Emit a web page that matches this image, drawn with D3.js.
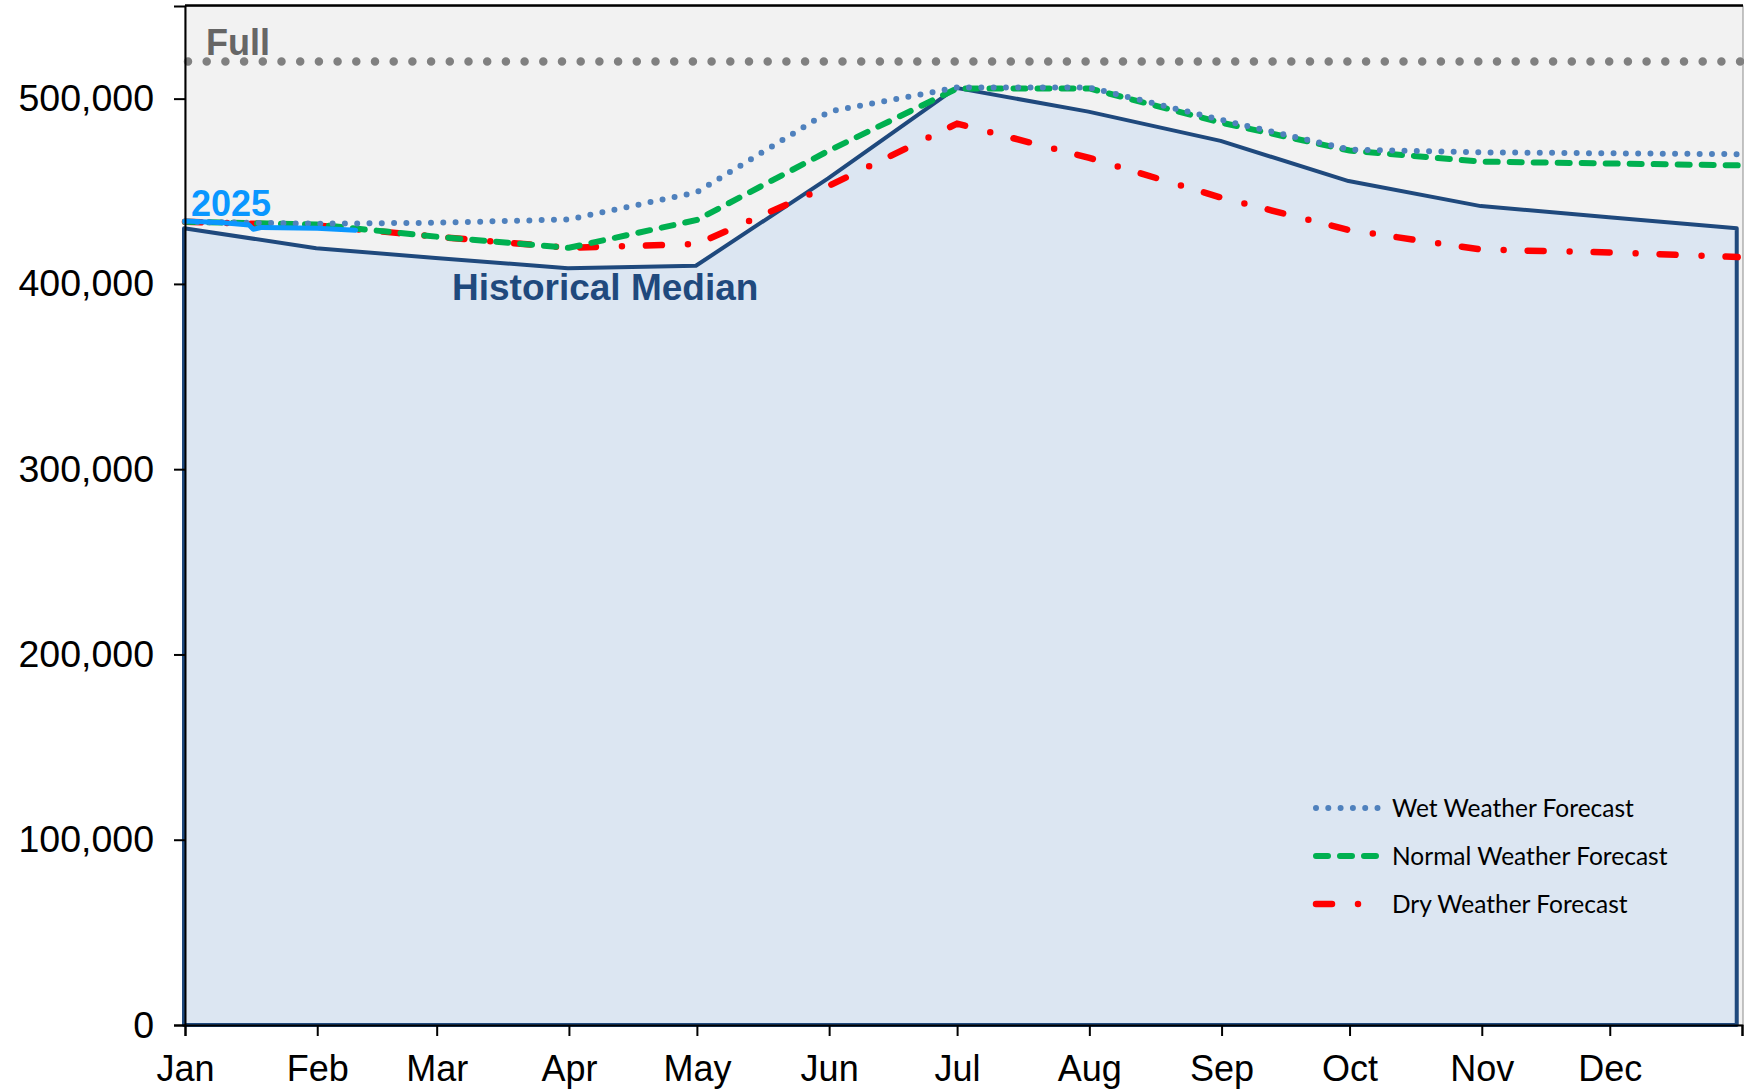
<!DOCTYPE html>
<html>
<head>
<meta charset="utf-8">
<script src="https://cdn.jsdelivr.net/npm/d3@7"></script>
<style>
  body { margin: 0; background: #fff; }
  svg { display: block; }
</style>
</head>
<body>
<div id="graph"></div>
<script>
var monthLabels = ["Jan", "Feb", "Mar", "Apr", "May", "Jun", "Jul", "Aug", "Sep", "Oct", "Nov", "Dec"];
var forecastDates = ["2025-01-01", "2025-02-01", "2025-03-01", "2025-04-01", "2025-05-01", "2025-06-01",
    "2025-07-01", "2025-08-01", "2025-09-01", "2025-10-01", "2025-11-01", "2025-12-01", "2025-12-31"];
var medianValues = [430000, 419300, 414000, 408500, 409800, 457000, 505800, 493000, 477200, 455500, 442000, 436000, 430000];
var wetValues    = [433500, 432500, 433000, 434800, 449500, 493000, 506000, 506000, 488500, 472500, 471000, 470500, 470000];
var normalValues = [433500, 432000, 425500, 419500, 434500, 472000, 505500, 505500, 487000, 472000, 466000, 465000, 464000];
var dryValues    = [433500, 431500, 425500, 419500, 421500, 453000, 486500, 468000, 446500, 429000, 418500, 417000, 414500];
var actualDates  = ["2025-01-01", "2025-01-10", "2025-01-16", "2025-01-17", "2025-01-19", "2025-02-01", "2025-02-10"];
var actualValues = [434000, 433000, 431800, 429500, 430500, 430000, 429000];
var fullLevel = 520000;
var yTickValues = [0, 100000, 200000, 300000, 400000, 500000];
var legendNames = ["Wet Weather Forecast", "Normal Weather Forecast", "Dry Weather Forecast"];

var width = 1744, height = 1091;
var plotLeft = 185, plotRight = 1742, plotTop = 6, plotBottom = 1025;
var parse = d3.timeParse("%Y-%m-%d");

var x = d3.scaleTime()
    .domain([parse("2025-01-01"), parse("2026-01-01")])
    .range([plotLeft, plotRight]);
var y = d3.scaleLinear()
    .domain([0, 550000])
    .range([plotBottom, plotTop]);

var zip = function(dates, values) {
    return dates.map((d, i) => ({date: parse(d), value: values[i]}));
};

var median = zip(forecastDates, medianValues);
var series = [
    {name: legendNames[0], data: zip(forecastDates, wetValues), color: "#4F81BD", width: 6, dash: "0 12.3"},
    {name: legendNames[1], data: zip(forecastDates, normalValues), color: "#00B050", width: 6, dash: "12 12"},
    {name: legendNames[2], data: zip(forecastDates, dryValues), color: "#FF0000", width: 6.5, dash: "16 26 0 24"}
];
var actual = zip(actualDates, actualValues);

var svg = d3.select("#graph")
    .append("svg")
    .attr("width", width)
    .attr("height", height);

svg.append("rect")
    .attr("x", 0).attr("y", 0)
    .attr("width", width).attr("height", height)
    .attr("fill", "#fff");

// plot background with a thin grey frame
svg.append("rect")
    .attr("x", plotLeft).attr("y", plotTop)
    .attr("width", plotRight - plotLeft + 1).attr("height", plotBottom - plotTop)
    .attr("fill", "#F2F2F2")
    .attr("stroke", "#8C8C8C")
    .attr("stroke-width", 1);

// historical median area
var area = d3.area()
    .x(d => x(d.date))
    .y0(y(0))
    .y1(d => y(d.value));

svg.append("path")
    .datum(median.map((d, i) => i === median.length - 1 ? {date: d.date, value: d.value} : d))
    .attr("d", area)
    .attr("transform", "translate(-1,0)")
    .attr("fill", "#DCE6F2")
    .attr("stroke", "#1F497D")
    .attr("stroke-width", 4)
    .attr("stroke-linejoin", "round");

// full line
svg.append("line")
    .attr("x1", plotLeft + 3).attr("x2", plotRight)
    .attr("y1", y(fullLevel)).attr("y2", y(fullLevel))
    .attr("stroke", "#808080")
    .attr("stroke-width", 8.5)
    .attr("stroke-linecap", "round")
    .attr("stroke-dasharray", "0 18.7");

var line = d3.line()
    .x(d => x(d.date))
    .y(d => y(d.value));

// forecasts: dry first, wet on top
series.slice().reverse().forEach(s => {
    svg.append("path")
        .datum(s.data)
        .attr("d", line)
        .attr("fill", "none")
        .attr("stroke", s.color)
        .attr("stroke-width", s.width)
        .attr("stroke-linecap", "round")
        .attr("stroke-dasharray", s.dash);
});

// 2025 actual
svg.append("path")
    .datum(actual)
    .attr("d", line)
    .attr("fill", "none")
    .attr("stroke", "#0A97FF")
    .attr("stroke-width", 5)
    .attr("stroke-linecap", "round")
    .attr("stroke-linejoin", "round");

// top border
svg.append("line")
    .attr("x1", plotLeft).attr("x2", plotRight + 1)
    .attr("y1", plotTop - 0.5).attr("y2", plotTop - 0.5)
    .attr("stroke", "#000")
    .attr("stroke-width", 2.5);

// axes
var yAxis = d3.axisLeft(y)
    .tickValues(yTickValues)
    .tickSize(11)
    .tickPadding(20)
    .tickFormat(d3.format(","));

var gy = svg.append("g")
    .attr("transform", "translate(" + plotLeft + ",0)")
    .call(yAxis);
gy.select(".domain").attr("stroke", "#000").attr("stroke-width", 2);
gy.selectAll(".tick line").attr("stroke", "#000").attr("stroke-width", 2);
gy.selectAll(".tick text")
    .attr("font-family", "'Liberation Sans', Arial, sans-serif")
    .attr("font-size", 37.5)
    .attr("fill", "#000");

var monthTicks = d3.timeMonth.range(parse("2025-01-01"), parse("2026-01-02"));
var xAxis = d3.axisBottom(x)
    .tickValues(monthTicks)
    .tickSize(11)
    .tickPadding(0)
    .tickFormat((d, i) => monthLabels[i] || "");

var gx = svg.append("g")
    .attr("transform", "translate(0," + plotBottom + ")")
    .call(xAxis);
gx.select(".domain").attr("stroke", "#000").attr("stroke-width", 2);
gx.selectAll(".tick line").attr("stroke", "#000").attr("stroke-width", 2);
gx.selectAll(".tick text")
    .attr("font-family", "'Liberation Sans', Arial, sans-serif")
    .attr("font-size", 36)
    .attr("fill", "#000")
    .attr("dy", null)
    .attr("y", 56);

// annotations
svg.append("text")
    .attr("x", 206).attr("y", 55)
    .attr("font-family", "'Liberation Sans', Arial, sans-serif")
    .attr("font-weight", "bold")
    .attr("font-size", 36)
    .attr("fill", "#666666")
    .text("Full");

svg.append("text")
    .attr("x", 191).attr("y", 216)
    .attr("font-family", "'Liberation Sans', Arial, sans-serif")
    .attr("font-weight", "bold")
    .attr("font-size", 36)
    .attr("fill", "#0A97FF")
    .text("2025");

svg.append("text")
    .attr("x", 452).attr("y", 300)
    .attr("font-family", "'Liberation Sans', Arial, sans-serif")
    .attr("font-weight", "bold")
    .attr("font-size", 37)
    .attr("fill", "#1F497D")
    .text("Historical Median");

// legend
var legend = svg.append("g")
    .selectAll("g")
    .data(series)
    .enter()
    .append("g")
    .attr("transform", (d, i) => "translate(1316," + (808 + i * 48) + ")");

legend.append("line")
    .attr("x1", 0).attr("x2", 66)
    .attr("y1", 0).attr("y2", 0)
    .attr("stroke", d => d.color)
    .attr("stroke-width", d => d.width)
    .attr("stroke-linecap", "round")
    .attr("stroke-dasharray", d => d.dash);

legend.append("text")
    .attr("x", 76)
    .attr("y", 0)
    .attr("dy", "0.35em")
    .attr("font-family", "Lato, 'Open Sans', sans-serif")
    .attr("font-size", 24.5)
    .attr("fill", "#000")
    .text(d => d.name);
</script>
</body>
</html>
